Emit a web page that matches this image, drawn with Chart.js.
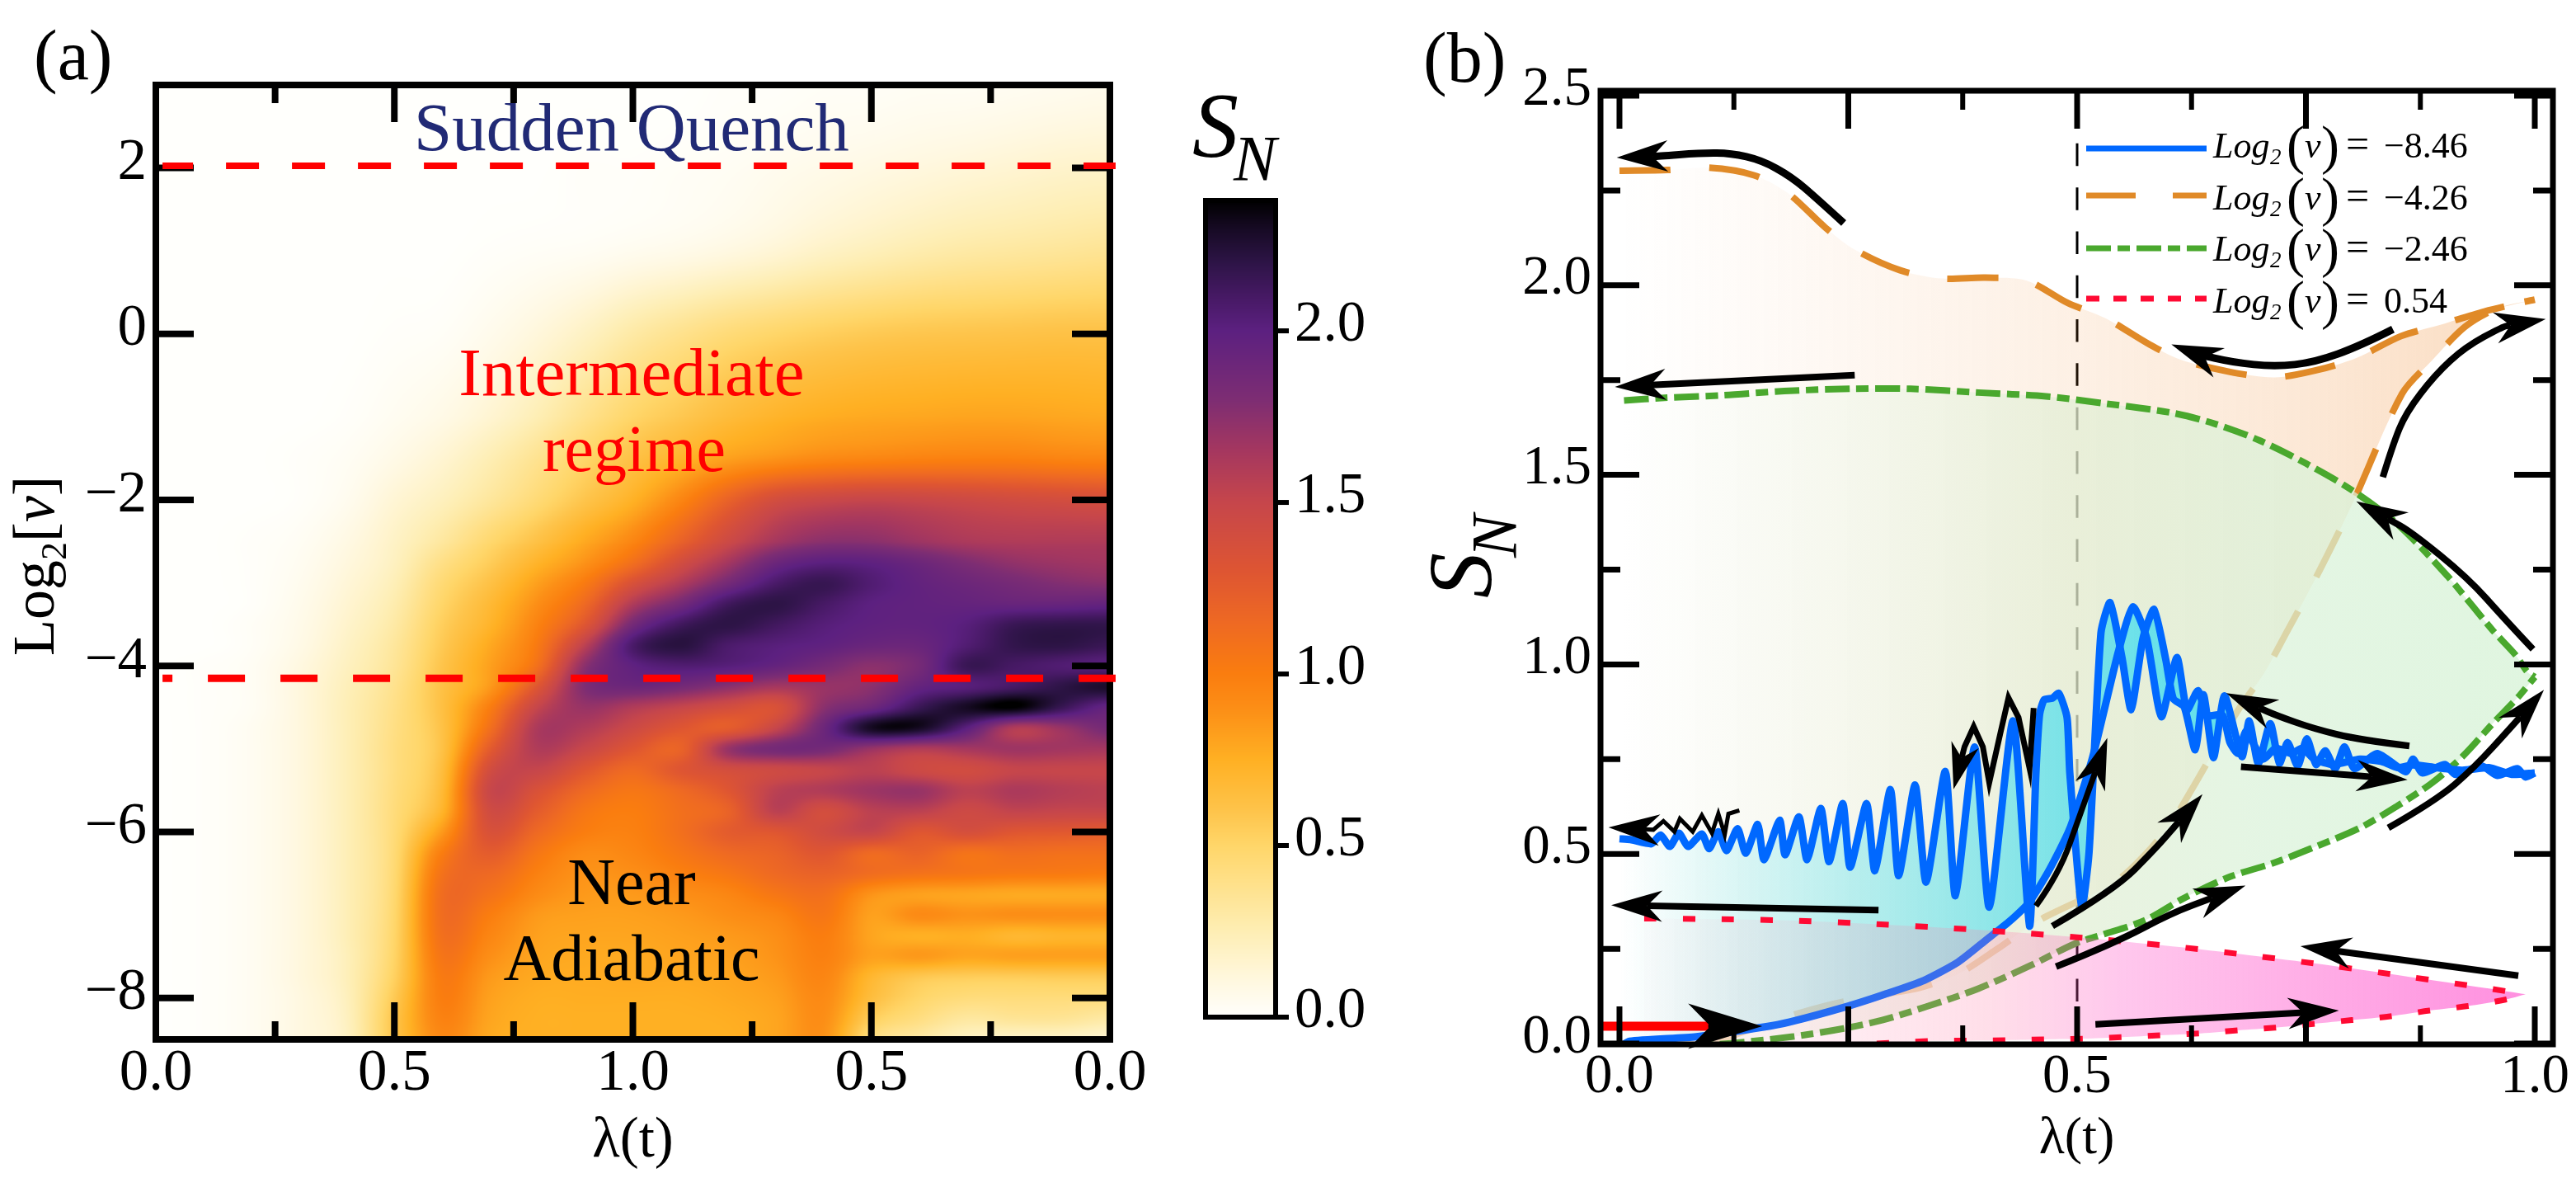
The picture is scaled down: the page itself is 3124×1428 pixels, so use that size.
<!DOCTYPE html>
<html>
<head>
<meta charset="utf-8">
<title>Entanglement entropy</title>
<script src="https://cdn.jsdelivr.net/npm/chart.js@4"></script>
<style>
  html, body { margin: 0; background: #fff; overflow: hidden; }
  canvas { position: absolute; top: 0; }
</style>
</head>
<body>
<canvas id="heat" width="1440" height="1428" style="left:0"></canvas>
<canvas id="bar" width="260" height="1428" style="left:1440px"></canvas>
<canvas id="lines" width="1424" height="1428" style="left:1700px"></canvas>
<script>
// panel (a) heat map values
const heatX = [0, .1, .2, .3, .4, .5, .6, .7, .8, .9, 1, 1.1, 1.2, 1.3, 1.4, 1.5, 1.6, 1.7, 1.8, 1.9, 2];
const heatY = [3, 2, 1, 0, -1, -1.5, -2, -2.5, -2.75, -3, -3.25, -3.5, -3.75, -4, -4.25, -4.5, -4.75, -5, -5.25, -5.5, -5.75, -6, -6.25, -6.5, -6.75, -7, -7.25, -7.5, -7.75, -8, -8.25, -8.5];
const heatS = [
  [0,0,0,0,0,0,0,0,0,0,0,0,.01,.01,.02,.02,.03,.03,.04,.05,.06],
  [0,0,0,0,0,0,0,0,0,.01,.01,.02,.03,.05,.07,.09,.11,.13,.15,.17,.18],
  [0,0,0,0,0,0,0,.01,.02,.03,.05,.07,.1,.14,.19,.23,.27,.3,.32,.34,.36],
  [0,0,0,0,0,.01,.02,.06,.12,.2,.3,.38,.45,.5,.54,.57,.59,.6,.61,.62,.62],
  [0,0,0,0,.01,.04,.08,.15,.25,.38,.5,.58,.66,.72,.76,.78,.79,.8,.8,.79,.78],
  [0,0,0,.01,.03,.08,.15,.25,.37,.5,.62,.72,.82,.88,.93,.95,.97,.98,.98,.96,.95],
  [0,0,0,.01,.05,.14,.22,.33,.46,.6,.74,.95,1.2,1.4,1.47,1.5,1.48,1.45,1.42,1.4,1.38],
  [0,0,.01,.03,.09,.19,.32,.48,.62,.78,.95,1.2,1.45,1.65,1.75,1.75,1.68,1.62,1.6,1.6,1.6],
  [0,0,.01,.04,.11,.21,.4,.55,.72,.88,1.1,1.4,1.65,1.9,2,1.98,1.9,1.8,1.72,1.68,1.66],
  [0,0,.01,.05,.13,.24,.46,.62,.82,1.02,1.35,1.6,1.85,2.08,2.16,2.05,1.96,1.9,1.84,1.78,1.75],
  [0,0,.01,.06,.15,.27,.5,.68,.9,1.15,1.6,1.85,2.12,2.2,2.1,2,1.97,1.95,1.93,1.93,1.95],
  [0,0,.02,.07,.17,.3,.54,.72,.97,1.3,1.85,2.12,2.2,2.12,2.03,1.98,1.97,2.02,2.15,2.18,2.18],
  [0,0,.02,.08,.19,.33,.57,.78,1.03,1.55,2.08,2.22,2.08,2.02,1.98,1.92,1.92,2.05,2.18,2.2,2.15],
  [0,.01,.03,.1,.21,.35,.6,.82,1.1,1.75,1.98,2.05,2.02,1.95,1.85,1.75,1.85,2.15,2.1,2.05,2.02],
  [0,.01,.03,.11,.23,.38,.62,.85,1.3,1.8,1.9,1.85,1.75,1.65,1.7,1.75,1.95,2.02,2.1,2.2,2.28],
  [0,.01,.03,.11,.24,.4,.63,1,1.5,1.7,1.6,1.5,1.4,1.35,1.75,1.9,2.15,2.3,2.38,2.15,1.95],
  [0,.01,.04,.11,.24,.41,.62,1.1,1.62,1.6,1.45,1.3,1.25,1.5,1.9,2.3,2.3,2,1.6,1.7,1.85],
  [0,.01,.04,.11,.24,.42,.62,1.25,1.6,1.48,1.3,1.2,1.7,1.85,1.85,1.7,1.6,1.65,1.68,1.66,1.65],
  [0,.01,.04,.11,.24,.42,.65,1.4,1.5,1.3,1.15,1.3,1.4,1.45,1.5,1.55,1.45,1.42,1.5,1.5,1.5],
  [0,.01,.04,.11,.24,.43,.68,1.48,1.35,1.15,1.05,1.15,1.3,1.55,1.6,1.68,1.7,1.55,1.62,1.58,1.55],
  [0,.01,.04,.11,.24,.44,.72,1.42,1.25,1.05,1,1.1,1.2,1.55,1.4,1.55,1.55,1.45,1.52,1.5,1.5],
  [0,.01,.04,.11,.24,.45,.85,1.35,1.15,1,.98,1.1,1.25,1.3,1.42,1.5,1.3,1.38,1.3,1.28,1.25],
  [0,.01,.04,.11,.24,.46,1,1.25,1.05,.92,.95,1.05,1.15,1.2,1.3,1.15,1.2,1.08,1.12,1.1,1.1],
  [0,.01,.04,.11,.24,.47,1.08,1.15,.98,.88,.9,.98,1.05,1.15,1.2,1.12,1.08,1.05,1.03,1.02,1],
  [0,.01,.04,.11,.24,.48,1.12,1.08,.92,.85,.85,.9,.95,1.05,1.1,.88,.82,.8,.78,.78,.78],
  [0,.01,.04,.11,.24,.49,1.12,1,.85,.82,.82,.85,.9,.95,1.05,.82,.92,.88,.9,.9,.9],
  [0,.01,.04,.11,.24,.5,1.1,.95,.82,.8,.8,.82,.85,.9,1,.8,.75,.76,.7,.72,.72],
  [0,.01,.04,.11,.23,.51,1.06,.9,.8,.78,.78,.8,.82,.88,.98,.82,.85,.8,.82,.82,.82],
  [0,.01,.04,.11,.23,.53,1.02,.85,.78,.77,.78,.78,.8,.85,.95,.7,.58,.55,.55,.56,.56],
  [0,.01,.04,.1,.22,.57,1,.82,.76,.76,.76,.76,.78,.82,.92,.65,.5,.44,.44,.44,.44],
  [0,.01,.04,.1,.21,.6,.97,.8,.75,.75,.75,.75,.76,.8,.9,.55,.42,.32,.35,.35,.3],
  [0,.01,.04,.1,.2,.6,.93,.78,.75,.75,.75,.75,.75,.8,.88,.42,.3,.2,.18,.18,.15]
];
const cutLevels = [2.026, -4.148];
const cutX = [0.014, 2.012];

// colour scale of S_N
const cmapS = [0, .1, .25, .5, .6, .75, .9, 1, 1.15, 1.3, 1.5, 1.65, 1.8, 2, 2.1, 2.2, 2.3, 2.38];
const cmapRGB = [[255,255,252],[255,248,225],[254,238,180],[255,214,105],[254,196,75],[255,176,35],[252,142,22],[250,125,15],[238,105,35],[222,85,50],[198,70,75],[165,55,95],[125,45,115],[92,32,128],[70,25,100],[45,20,70],[22,10,35],[0,0,0]];

// tick positions and labels
const aXTicks = [0, .5, 1, 1.5, 2];
const aXMinor = [.25, .75, 1.25, 1.75];
const aXLabels = ['0.0', '0.5', '1.0', '0.5', '0.0'];
const aYTicks = [2, 0, -2, -4, -6, -8];
const aYLabels = ['2', '0', '\u22122', '\u22124', '\u22126', '\u22128'];
const barTicks = [0, .5, 1, 1.5, 2];
const bXTicks = [0, .25, .5, .75, 1];
const bXMinor = [.125, .375, .625, .875];
const bXLabels = ['0.0', '', '0.5', '', '1.0'];
const bYTicks = [0, .5, 1, 1.5, 2, 2.5];
const bYMinor = [.25, .75, 1.25, 1.75, 2.25];

// panel (b) curves: up = lambda rising, down = lambda falling
const blueDownX = [0,.012,.035,.045,.055,.065,.075,.09,.098,.108,.117,.129,.138,.151,.158,.175,.181,.196,.205,.22,.229,.244,.252,.27,.279,.296,.305,.323,.335,.356,.367,.388,.404,.43,.448,.455,.459,.464,.473,.48,.489,.492,.505,.513,.526,.536,.549,.559,.572,.584,.597,.605,.617,.629,.638,.649,.661,.68,.688,.698,.711,.721,.73,.741,.751,.761,.771,.782,.792,.803,.828,.859,.867,.877,.902,.913,.942,.959,.981,.99,1];
const blueDownS = [.54,.538,.527,.55,.52,.555,.52,.553,.514,.559,.509,.567,.502,.578,.485,.589,.498,.598,.485,.62,.48,.633,.465,.633,.456,.67,.443,.682,.426,.718,.39,.782,.36,.851,.31,.714,.868,.907,.911,.924,.86,.714,.36,.504,1.083,1.163,1.018,.881,1.069,1.145,1.011,.91,.888,.775,.92,.754,.917,.757,.851,.739,.844,.739,.794,.732,.804,.736,.772,.725,.783,.725,.765,.717,.75,.714,.736,.71,.732,.707,.725,.703,.714];
const blueUpX = [0,.011,.084,.156,.186,.25,.29,.333,.37,.402,.425,.448,.47,.492,.517,.545,.561,.576,.592,.609,.62,.632,.642,.659,.667,.676,.684,.692,.703,.717,.734,.746,.759,.78,.809,.834,.85,.867,.892,.921,.95,.975,1];
const blueUpS = [-.01,.006,.018,.043,.057,.099,.13,.167,.215,.276,.32,.374,.46,.567,.756,1.033,1.152,1.069,.862,1.018,.88,.931,.866,.866,.794,.765,.823,.794,.75,.779,.765,.779,.75,.736,.75,.743,.728,.735,.728,.721,.728,.71,.714];
const orangeDownX = [0,.053,.098,.147,.184,.225,.257,.306,.351,.4,.445,.49,.531,.579,.613,.666,.715,.76,.805,.854,.896,.945,1];
const orangeDownS = [2.302,2.304,2.31,2.29,2.243,2.152,2.094,2.04,2.018,2.02,2.012,1.953,1.913,1.844,1.804,1.772,1.757,1.775,1.808,1.866,1.895,1.931,1.962];
const orangeUpX = [0,.08,.11,.185,.234,.28,.329,.371,.413,.456,.54,.576,.605,.63,.676,.705,.73,.759,.8,.855,.887,.924,.96,1];
const orangeUpS = [-.01,-.005,.011,.072,.105,.127,.148,.185,.25,.322,.424,.503,.59,.69,.88,.98,1.09,1.22,1.42,1.714,1.8,1.891,1.94,1.962];
const greenDownX = [.005,.049,.114,.18,.253,.318,.392,.466,.531,.605,.65,.7,.75,.8,.85,.904,.929,.954,.979,.992,1];
const greenDownS = [1.696,1.703,1.71,1.721,1.727,1.727,1.717,1.707,1.688,1.663,1.635,1.59,1.53,1.46,1.37,1.235,1.163,1.09,1.025,.98,.967];
const greenUpX = [0,.105,.188,.245,.287,.336,.392,.449,.498,.526,.575,.617,.667,.713,.755,.809,.85,.888,.921,.954,.983,1];
const greenUpS = [-.01,-.002,.018,.04,.062,.098,.145,.206,.264,.286,.326,.384,.44,.475,.514,.569,.627,.688,.757,.844,.917,.967];
const redDownX = [.027,.111,.195,.28,.364,.445,.53,.614,.698,.779,.863,.948,.99];
const redDownS = [.33,.328,.324,.315,.304,.291,.274,.254,.23,.205,.176,.146,.13];
const redUpX = [.027,.2,.34,.38,.423,.465,.507,.549,.591,.635,.676,.716,.758,.8,.842,.885,.927,.968,.99];
const redUpS = [-.01,-.008,.007,.008,.009,.011,.013,.017,.022,.027,.035,.042,.052,.062,.072,.087,.099,.116,.13];
const quenchX = [.5, .5];
const quenchS = [2.49, 0];
const startBarX = [-.02, .1];
const startBarS = [.046, .046];

// the black arrows follow the branches, each path ends at its tip
const arrowPaths = [
  [[.245,2.164],[.216,2.228],[.188,2.286],[.155,2.33],[.122,2.348],[.09,2.349],[.04,2.34],[-.003,2.337]],
  [[.257,1.763],[-.005,1.732]],
  [[.845,1.884],[.81,1.841],[.76,1.797],[.716,1.785],[.67,1.797],[.63,1.819],[.603,1.844]],
  [[.834,1.494],[.845,1.58],[.859,1.663],[.891,1.764],[.924,1.837],[.965,1.891],[1.012,1.911]],
  [[.998,1.04],[.967,1.12],[.927,1.228],[.865,1.35],[.805,1.43]],
  [[.84,.569],[.892,.641],[.934,.728],[.975,.837],[1.01,.933]],
  [[.863,.785],[.809,.801],[.759,.83],[.717,.866],[.663,.924]],
  [[.679,.73],[.767,.714],[.861,.696]],
  [[.473,.31],[.54,.404],[.586,.515],[.637,.658]],
  [[.455,.363],[.48,.447],[.503,.602],[.533,.806]],
  [[.4525,.885],[.448,.726],[.436,.86],[.425,.912],[.416,.817],[.404,.688],[.397,.783],[.387,.836],[.377,.783],[.365,.671]],
  [[.131,.615],[.119,.606],[.115,.551],[.108,.606],[.101,.555],[.09,.602],[.08,.559],[.066,.593],[.06,.559],[.048,.587],[.037,.564],[-.012,.57]],
  [[.283,.352],[-.009,.365]],
  [[.982,.179],[.744,.257]],
  [[.52,.051],[.786,.087]],
  [[.477,.203],[.54,.264],[.603,.344],[.684,.417]],
  [[.097,.046],[.156,.046]]
];
const arrowWidths = [9, 8, 9, 8, 8, 8, 8, 8, 8, 7, 7, 5, 8, 8, 8, 8, 4];
const arrowSizes = [1, 1, 1, 1, 1, 1, 1, 1, 1, 1, .9, 1, 1, 1, 1, 1, 1.45];
const kinkedArrows = [10, 11];
const legendNames = ['\u22128.46', '\u22124.26', '\u22122.46', '0.54'];

const serif = '"Liberation Serif"';
const xy = (xs, ys) => xs.map((x, i) => ({ x: x, y: ys[i] }));

function heatColor(s) {
  let i = 0;
  while (i < cmapS.length - 2 && s > cmapS[i + 1]) i++;
  const t = Math.max(0, Math.min(1, (s - cmapS[i]) / (cmapS[i + 1] - cmapS[i])));
  return cmapRGB[i].map((c, k) => c + (cmapRGB[i + 1][k] - c) * t);
}

function spline(a, b, c, d, t) {
  return b + .5 * t * (c - a + t * (2 * a - 5 * b + 4 * c - d + t * (3 * (b - c) + d - a)));
}

function gridPos(arr, v) {
  // fractional index of v in a monotone axis
  const dir = arr[1] > arr[0] ? 1 : -1;
  let i = 0;
  while (i < arr.length - 2 && (arr[i + 1] - v) * dir < 0) i++;
  return [i, (v - arr[i]) / (arr[i + 1] - arr[i])];
}

function sampleHeat(col, colT, row, rowT) {
  const rows = [];
  for (let r = row - 1; r <= row + 2; r++) {
    const line = heatS[Math.max(0, Math.min(heatS.length - 1, r))];
    const g = c => line[Math.max(0, Math.min(line.length - 1, c))];
    rows.push(spline(g(col - 1), g(col), g(col + 1), g(col + 2), colT));
  }
  return Math.max(0, spline(rows[0], rows[1], rows[2], rows[3], rowT));
}

const heatmapPlugin = {
  id: 'heatmapPlugin',
  beforeDatasetsDraw(chart) {
    const area = chart.chartArea, sx = chart.scales.x, sy = chart.scales.y;
    const w = Math.round(area.right - area.left), h = Math.round(area.bottom - area.top);
    const off = document.createElement('canvas');
    off.width = w; off.height = h;
    const octx = off.getContext('2d');
    const img = octx.createImageData(w, h);
    const cols = [];
    for (let i = 0; i < w; i++) cols.push(gridPos(heatX, sx.getValueForPixel(area.left + i + .5)));
    let p = 0;
    for (let j = 0; j < h; j++) {
      const rp = gridPos(heatY, sy.getValueForPixel(area.top + j + .5));
      for (let i = 0; i < w; i++) {
        const c = heatColor(sampleHeat(cols[i][0], cols[i][1], rp[0], rp[1]));
        img.data[p++] = c[0]; img.data[p++] = c[1]; img.data[p++] = c[2]; img.data[p++] = 255;
      }
    }
    octx.putImageData(img, 0, 0);
    chart.ctx.drawImage(off, area.left, area.top);
  }
};

const colorStripPlugin = {
  id: 'colorStripPlugin',
  beforeDatasetsDraw(chart) {
    const area = chart.chartArea, sy = chart.scales.y, ctx = chart.ctx;
    for (let y = Math.floor(area.top); y < area.bottom; y++) {
      const c = heatColor(sy.getValueForPixel(y + .5));
      ctx.fillStyle = 'rgb(' + c.map(Math.round).join(',') + ')';
      ctx.fillRect(area.left, y, area.right - area.left, 1);
    }
  }
};

// inward ticks on all sides and the box; Chart.js only draws them outward
function drawBox(chart, o) {
  const ctx = chart.ctx, a = chart.chartArea;
  ctx.save();
  ctx.strokeStyle = '#000';
  ctx.lineWidth = o.frame;
  ctx.strokeRect(a.left, a.top, a.right - a.left, a.bottom - a.top);
  (o.x || []).forEach(set => {
    ctx.lineWidth = set.w;
    set.values.forEach(v => {
      const px = chart.scales.x.getPixelForValue(v);
      ctx.beginPath(); ctx.moveTo(px, a.top); ctx.lineTo(px, a.top + set.len);
      ctx.moveTo(px, a.bottom); ctx.lineTo(px, a.bottom - set.len); ctx.stroke();
    });
  });
  (o.y || []).forEach(set => {
    ctx.lineWidth = set.w;
    set.values.forEach(v => {
      const py = chart.scales.y.getPixelForValue(v);
      ctx.beginPath();
      if (!set.rightOnly) { ctx.moveTo(a.left, py); ctx.lineTo(a.left + set.len, py); }
      ctx.moveTo(a.right, py); ctx.lineTo(a.right + (set.rightOnly ? set.len : -set.len), py);
      ctx.stroke();
    });
  });
  ctx.restore();
}
const boxPlugin = {
  id: 'boxPlugin',
  beforeDatasetsDraw(chart, args, o) { if (o.under) drawBox(chart, o); },
  afterDatasetsDraw(chart, args, o) { if (!o.under) drawBox(chart, o); }
};

function put(ctx, text, x, y, font, color, align, rot) {
  ctx.save();
  ctx.translate(x, y);
  if (rot) ctx.rotate(rot);
  ctx.font = font;
  ctx.fillStyle = color || '#000';
  ctx.textAlign = align || 'left';
  ctx.textBaseline = 'alphabetic';
  ctx.fillText(text, 0, 0);
  ctx.restore();
}

const labelsA = {
  id: 'labelsA',
  afterDraw(chart) {
    const ctx = chart.ctx, f = serif, big = '80px ' + f, wide = '83px ' + f;
    put(ctx, '(a)', 41, 96, '86px ' + f);
    put(ctx, 'Sudden Quench', 502, 182, wide, '#212a75');
    put(ctx, 'Intermediate', 766, 479, wide, '#ff0000', 'center');
    put(ctx, 'regime', 769, 571, big, '#ff0000', 'center');
    put(ctx, 'Near', 766, 1096, big, '#000', 'center');
    put(ctx, 'Adiabatic', 766, 1188, big, '#000', 'center');
    // Log2[nu] reads upward, baseline at x=65
    let y = 795;
    const up = -Math.PI / 2;
    const part = (t, font, dx) => {
      put(ctx, t, 65 + dx, y, font, '#000', 'left', up);
      ctx.font = font;
      y -= ctx.measureText(t).width;
    };
    part('Log', '72px ' + f, 0);
    part('2', '44px ' + f, 15);
    part('[', '72px ' + f, 0);
    part('\u03bd', 'italic 72px ' + f, 0);
    part(']', '72px ' + f, 0);
  }
};

const labelsBar = {
  id: 'labelsBar',
  afterDraw(chart) {
    const ctx = chart.ctx;
    put(ctx, 'S', 6, 190, 'italic 112px ' + serif);
    put(ctx, 'N', 56, 218, 'italic 78px ' + serif);
  }
};

function drawArrow(ctx, pts, w, size, kinked) {
  const n = pts.length, tip = pts[n - 1], prev = pts[n - 2];
  const d = Math.hypot(tip.x - prev.x, tip.y - prev.y);
  const ux = (tip.x - prev.x) / d, uy = (tip.y - prev.y) / d;
  const len = 62 * size, half = 19 * size;
  const end = { x: tip.x - ux * len * .7, y: tip.y - uy * len * .7 };
  ctx.save();
  ctx.strokeStyle = '#000';
  ctx.fillStyle = '#000';
  ctx.lineWidth = w;
  ctx.lineJoin = 'miter';
  ctx.beginPath();
  ctx.moveTo(pts[0].x, pts[0].y);
  for (let i = 1; i < n - 1; i++) {
    if (kinked) ctx.lineTo(pts[i].x, pts[i].y);
    else ctx.quadraticCurveTo(pts[i].x, pts[i].y, (pts[i].x + (i < n - 2 ? pts[i + 1].x : end.x)) / 2, (pts[i].y + (i < n - 2 ? pts[i + 1].y : end.y)) / 2);
  }
  ctx.lineTo(end.x, end.y);
  ctx.stroke();
  ctx.beginPath();
  ctx.moveTo(tip.x, tip.y);
  ctx.lineTo(tip.x - ux * len - uy * half, tip.y - uy * len + ux * half);
  ctx.lineTo(end.x, end.y);
  ctx.lineTo(tip.x - ux * len + uy * half, tip.y - uy * len - ux * half);
  ctx.closePath();
  ctx.fill();
  ctx.restore();
}

const arrowsPlugin = {
  id: 'arrowsPlugin',
  afterDatasetsDraw(chart) {
    const sx = chart.scales.x, sy = chart.scales.y;
    arrowPaths.forEach((path, i) => {
      const pts = path.map(p => ({ x: sx.getPixelForValue(p[0]), y: sy.getPixelForValue(p[1]) }));
      drawArrow(chart.ctx, pts, arrowWidths[i], arrowSizes[i], kinkedArrows.includes(i));
    });
  }
};

const labelsB = {
  id: 'labelsB',
  afterDraw(chart) {
    const ctx = chart.ctx, f = serif, up = -Math.PI / 2;
    put(ctx, '(b)', 26, 99, '86px ' + f);
    put(ctx, 'S', 108, 725, 'italic 110px ' + f, '#000', 'left', up);
    put(ctx, 'N', 138, 676, 'italic 78px ' + f, '#000', 'left', up);
    // legend
    const rowY = [177, 240, 302, 365];
    const lineY = [180, 237, 301, 362];
    const styles = [['#0068ff', []], ['#e08a28', [60, 45]], ['#4aa82e', [30, 8, 15, 8]], ['#ff0a33', [16, 17]]];
    rowY.forEach((y, i) => {
      ctx.save();
      ctx.strokeStyle = styles[i][0];
      ctx.setLineDash(styles[i][1]);
      ctx.lineWidth = 7;
      ctx.beginPath();
      ctx.moveTo(830, lineY[i]); ctx.lineTo(976, lineY[i]);
      ctx.stroke();
      ctx.restore();
      const x0 = 984, base = y + 14;
      put(ctx, 'Log', x0, base, 'italic 44px ' + f);
      put(ctx, '2', x0 + 69, base + 8, 'italic 27px ' + f);
      put(ctx, '(', x0 + 89, base + 7, '66px ' + f);
      put(ctx, '\u03bd', x0 + 111, base, 'italic 44px ' + f);
      put(ctx, ')', x0 + 131, base + 7, '66px ' + f);
      put(ctx, '=', x0 + 161, base, '50px ' + f);
      put(ctx, legendNames[i], x0 + 207, base, '44px ' + f);
    });
  }
};

// horizontal fades of the shaded bands
function fade(stops) {
  return c => {
    const sx = c.chart.scales.x;
    if (!sx || !c.chart.chartArea) return 'transparent';
    const g = c.chart.ctx.createLinearGradient(sx.getPixelForValue(0), 0, sx.getPixelForValue(1), 0);
    stops.forEach(s => g.addColorStop(s[0], s[1]));
    return g;
  };
}

function tickScale(values, labels, font, padding, fixed, shift, extra) {
  return Object.assign({
    grid: { display: false, drawTicks: false },
    border: { display: false },
    afterBuildTicks(s) { s.ticks = values.map(v => ({ value: v })); },
    afterFit(s) { if (s.isHorizontal()) s.height = fixed; else s.width = fixed; },
    ticks: {
      autoSkip: false, maxRotation: 0, minRotation: 0, padding: padding, color: '#000', labelOffset: shift,
      font: { family: 'Liberation Serif', size: font },
      callback: (v, i) => labels[i]
    }
  }, extra);
}

const base = (padding, plugins) => ({
  responsive: false,
  animation: false,
  devicePixelRatio: 1,
  layout: { autoPadding: false, padding: padding },
  plugins: Object.assign({ legend: { display: false }, tooltip: { enabled: false } }, plugins),
  elements: { point: { radius: 0 } }
});

const axisTitle = (size, bottom) => ({
  display: true, text: '\u03bb(t)', color: '#000',
  font: { family: 'Liberation Serif', size: size }, padding: { top: 0, bottom: bottom }
});

// panel (a)
new Chart(document.getElementById('heat'), {
  type: 'scatter',
  data: {
    datasets: [
      { data: xy(cutX, [cutLevels[0], cutLevels[0]]), showLine: true, borderColor: '#ff0000', borderWidth: 8, borderDash: [40, 40], borderDashOffset: 3, clip: false },
      { data: xy(cutX, [cutLevels[1], cutLevels[1]]), showLine: true, borderColor: '#ff0000', borderWidth: 9, borderDash: [45, 43], borderDashOffset: 33, clip: false }
    ]
  },
  options: Object.assign(base({ top: 103, right: 94, left: 0, bottom: 0 }, {
    boxPlugin: {
      under: true, frame: 8,
      x: [{ values: aXTicks, len: 45, w: 8 }, { values: aXMinor, len: 22, w: 8 }],
      y: [{ values: aYTicks, len: 46, w: 8 }]
    }
  }), {
    scales: {
      x: tickScale(aXTicks, aXLabels, 71, 0, 168, 0, { type: 'linear', min: 0, max: 2, title: axisTitle(69, 3) }),
      y: tickScale(aYTicks, aYLabels, 71, 11, 189, -5, { type: 'linear', min: -8.5, max: 3 })
    }
  }),
  plugins: [heatmapPlugin, boxPlugin, labelsA]
});

// colour bar
new Chart(document.getElementById('bar'), {
  type: 'scatter',
  data: { datasets: [] },
  options: Object.assign(base({ top: 243, right: 0, left: 22, bottom: 195 }, {
    boxPlugin: { under: true, frame: 6, y: [{ values: barTicks, len: 16, w: 6, rightOnly: true }] }
  }), {
    scales: {
      x: { type: 'linear', display: false, min: 0, max: 1 },
      y: tickScale(barTicks, ['0.0', '0.5', '1.0', '1.5', '2.0'], 69, 23, 153, -6, { type: 'linear', position: 'right', min: 0, max: 2.38 })
    }
  }),
  plugins: [colorStripPlugin, boxPlugin, labelsBar]
});

// panel (b)
const line = (xs, ys, color, dash, extra) => Object.assign({
  data: xy(xs, ys), showLine: true, borderColor: color, borderWidth: 8,
  borderDash: dash, tension: .3, fill: false
}, extra);

new Chart(document.getElementById('lines'), {
  type: 'scatter',
  data: {
    datasets: [
      line(quenchX, quenchS, '#000000', [27.5, 25.8], { borderWidth: 3, order: 30, tension: 0 }),
      line(orangeDownX, orangeDownS, '#e08a28', [62, 47], { order: 29, fill: { target: '+1' },
        backgroundColor: fade([[0, 'rgba(240,140,50,0)'], [.15, 'rgba(240,140,50,.04)'], [.5, 'rgba(240,140,50,.13)'], [.75, 'rgba(240,140,50,.2)'], [1, 'rgba(240,140,50,.3)']]) }),
      line(orangeUpX, orangeUpS, '#e08a28', [62, 47], { order: 28 }),
      line(greenDownX, greenDownS, '#4aa82e', [30, 8, 15, 8], { order: 25, fill: { target: '+1' },
        backgroundColor: fade([[0, 'rgba(255,255,255,.72)'], [.25, 'rgba(242,247,235,.72)'], [.5, 'rgba(225,238,212,.72)'], [.7, 'rgba(218,242,217,.72)'], [1, 'rgba(212,242,212,.72)']]) }),
      line(greenUpX, greenUpS, '#4aa82e', [30, 8, 15, 8], { order: 24 }),
      line(blueDownX, blueDownS, '#0068ff', [], { order: 20, tension: .2, borderWidth: 9, fill: { target: '+1' },
        backgroundColor: fade([[0, 'rgba(60,220,240,0)'], [.5, 'rgba(60,220,240,.65)'], [.6, 'rgba(60,220,240,.75)'], [1, 'rgba(60,220,240,.8)']]) }),
      line(blueUpX, blueUpS, '#0068ff', [], { order: 19, tension: .2, borderWidth: 9 }),
      line(redDownX, redDownS, '#ff0a33', [15, 32], { order: 15, borderWidth: 7, fill: { target: '+1' },
        backgroundColor: fade([[0, 'rgba(255,130,170,0)'], [.4, 'rgba(255,130,170,.26)'], [.55, 'rgba(255,70,195,.3)'], [1, 'rgba(255,60,200,.58)']]) }),
      line(redUpX, redUpS, '#ff0a33', [15, 32], { order: 14, borderWidth: 7 }),
      line(startBarX, startBarS, '#ff0000', [], { order: 10, borderWidth: 11, tension: 0 })
    ]
  },
  options: Object.assign(base({ top: 110, right: 28, left: 0, bottom: 0 }, {
    boxPlugin: {
      under: false, frame: 7,
      x: [{ values: bXTicks, len: 46, w: 7 }, { values: bXMinor, len: 23, w: 6 }],
      y: [{ values: bYTicks, len: 47, w: 7 }, { values: bYMinor, len: 24, w: 7 }]
    }
  }), {
    scales: {
      x: tickScale(bXTicks, bXLabels, 67, 0, 162, 0, { type: 'linear', min: -.0207, max: 1.0198, title: axisTitle(64, 8) }),
      y: tickScale(bYTicks, ['0.0', '0.5', '1.0', '1.5', '2.0', '2.5'], 67, 11, 241, -7, { type: 'linear', min: -.002, max: 2.513 })
    }
  }),
  plugins: [boxPlugin, arrowsPlugin, labelsB]
});
</script>
</body>
</html>
